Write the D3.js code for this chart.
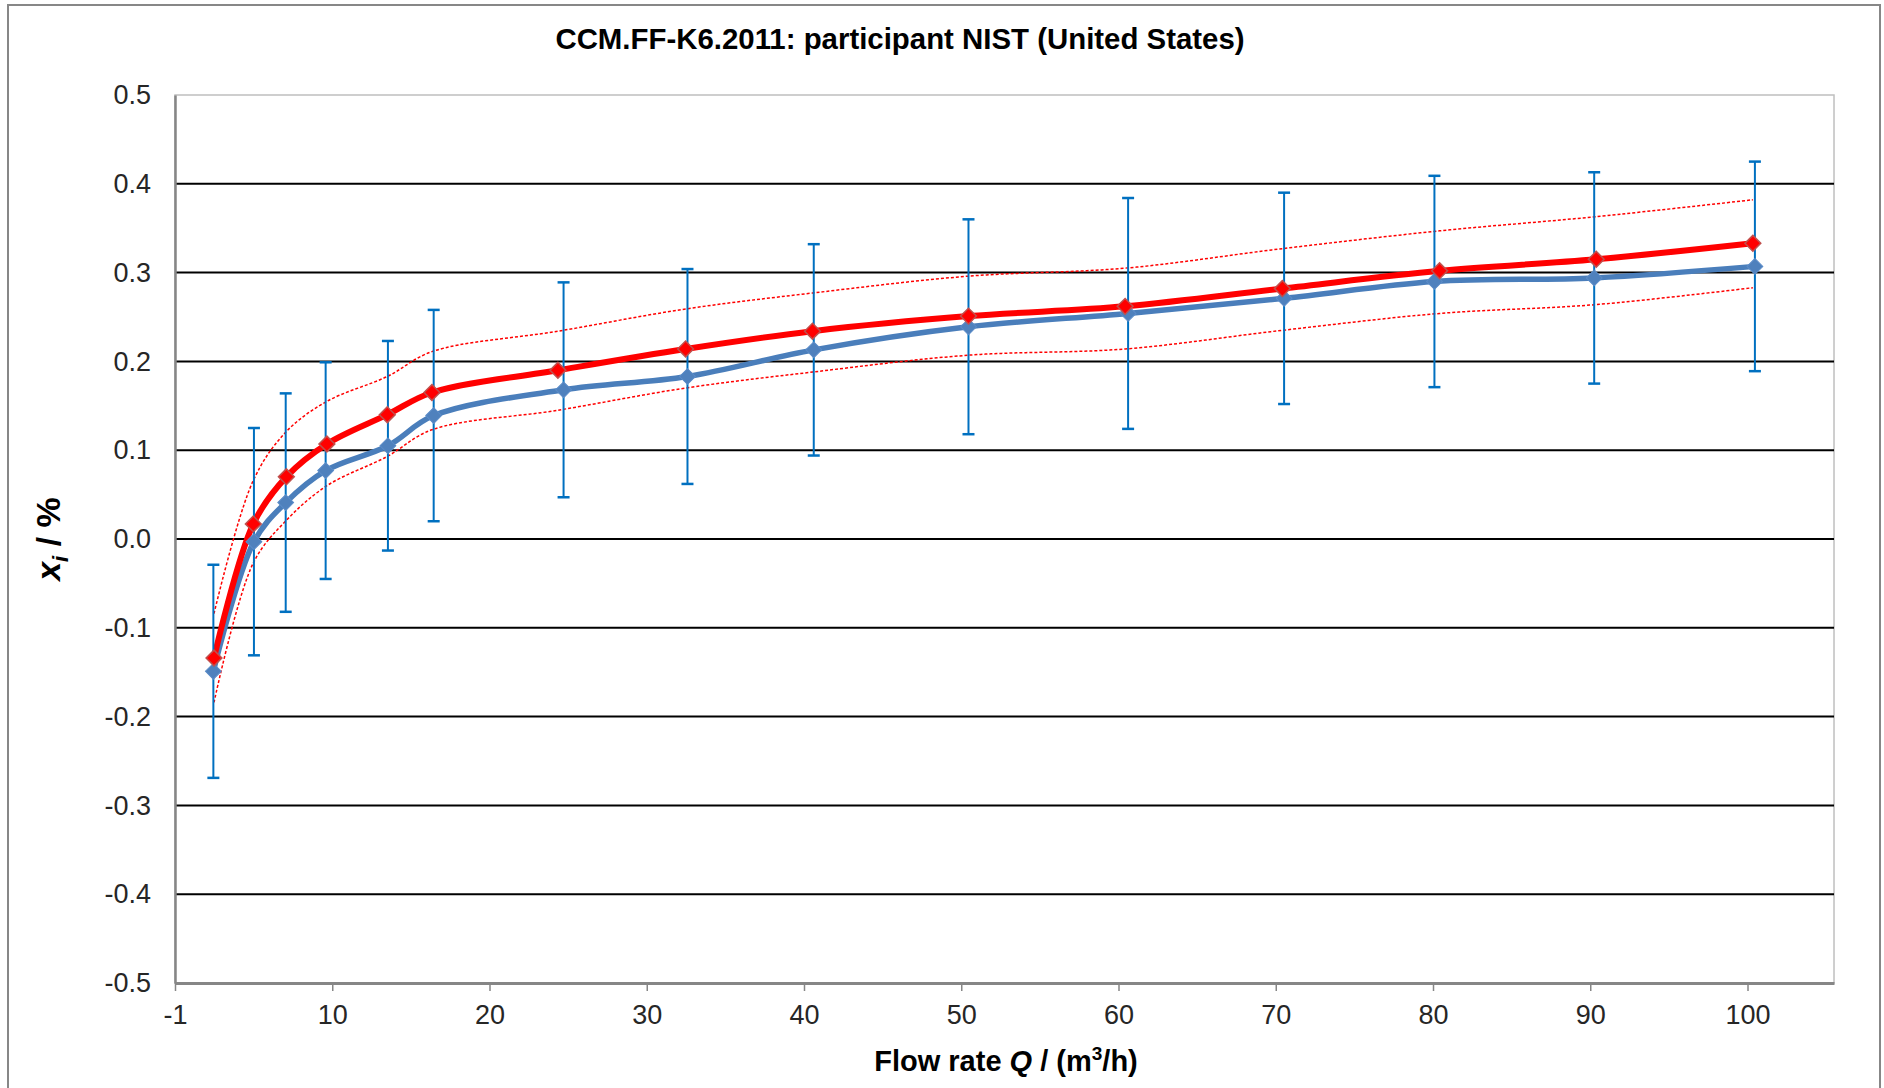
<!DOCTYPE html>
<html><head><meta charset="utf-8">
<script src="https://cdn.jsdelivr.net/npm/d3@7"></script>
<style>
body{margin:0;background:#fff}
svg{display:block}
text{font-family:"Liberation Sans",Arial,Helvetica,sans-serif}
</style>
</head><body>
<svg id="chart" width="1884" height="1088"></svg>
<script>
// ---- data ----
const chartTitle = "CCM.FF-K6.2011: participant NIST (United States)";
// participant (NIST) deviations with expanded uncertainty
const flowNIST = [1.94, 4.52, 6.54, 9.08, 13.04, 15.95, 24.21, 32.09, 40.12, 49.96, 60.11, 70.03, 79.59, 89.75, 99.97];
const devNIST  = [-0.149, -0.003, 0.041, 0.077, 0.105, 0.139, 0.168, 0.183, 0.213, 0.239, 0.254, 0.271, 0.290, 0.294, 0.307];
const uncNIST  = [0.120, 0.128, 0.123, 0.122, 0.118, 0.119, 0.121, 0.121, 0.119, 0.121, 0.130, 0.119, 0.119, 0.119, 0.118];
// reference curve and its uncertainty band
const flowRef  = [1.98, 4.48, 6.58, 9.16, 13.00, 15.84, 23.85, 31.97, 40.04, 49.96, 59.92, 69.92, 79.92, 89.88, 99.84];
const devRef   = [-0.134, 0.017, 0.070, 0.107, 0.140, 0.165, 0.190, 0.214, 0.234, 0.251, 0.262, 0.282, 0.302, 0.315, 0.333];
const refUpper = [-0.084, 0.066, 0.121, 0.155, 0.183, 0.211, 0.234, 0.259, 0.277, 0.296, 0.305, 0.327, 0.347, 0.363, 0.382];
const refLower = [-0.184, -0.027, 0.021, 0.060, 0.093, 0.123, 0.145, 0.170, 0.188, 0.207, 0.214, 0.235, 0.254, 0.264, 0.283];
// axes
const xTicks      = [-0.5, 9.5, 19.5, 29.5, 39.5, 49.5, 59.5, 69.5, 79.5, 89.5, 99.5];
const xTickLabels = ["-1", "10", "20", "30", "40", "50", "60", "70", "80", "90", "100"];
const yTicks      = [-0.5, -0.4, -0.3, -0.2, -0.1, 0.0, 0.1, 0.2, 0.3, 0.4, 0.5];
const yTickLabels = ["-0.5", "-0.4", "-0.3", "-0.2", "-0.1", "0.0", "0.1", "0.2", "0.3", "0.4", "0.5"];

// ---- drawing ----
const svg = d3.select("#chart");
const L = 175, R = 1834, T = 95, B = 983;
const x = d3.scaleLinear().domain([-0.5, 105]).range([L, R]);
const y = d3.scaleLinear().domain([-0.5, 0.5]).range([B, T]);

// outer chart border
svg.append("rect").attr("x", 8).attr("y", 5).attr("width", 1872).attr("height", 1110)
  .attr("fill", "#fff").attr("stroke", "#878787").attr("stroke-width", 2);

// title
svg.append("text").attr("x", 900).attr("y", 49).attr("text-anchor", "middle")
  .attr("font-size", 29.4).attr("font-weight", "bold").attr("fill", "#000").text(chartTitle);

// plot area border
svg.append("rect").attr("x", L).attr("y", T).attr("width", R - L).attr("height", B - T)
  .attr("fill", "none").attr("stroke", "#BFBFBF").attr("stroke-width", 1.5);

// gridlines
svg.append("g").selectAll("line").data(yTicks.filter(v => Math.abs(v) < 0.45)).join("line")
  .attr("x1", L).attr("x2", R).attr("y1", d => y(d)).attr("y2", d => y(d))
  .attr("stroke", "#000").attr("stroke-width", 2);

// y axis (labels only, no tick marks)
const yAxis = d3.axisLeft(y).tickValues(yTicks).tickSize(0).tickPadding(24)
  .tickFormat((d, i) => yTickLabels[i]);
const gy = svg.append("g").attr("transform", `translate(${L},0)`).call(yAxis);
gy.select(".domain").attr("stroke", "#868686").attr("stroke-width", 2.5);
gy.selectAll("text").attr("font-size", 27).attr("fill", "#262626")
  .attr("font-family", '"Liberation Sans",Arial,sans-serif');

// x axis
const xAxis = d3.axisBottom(x).tickValues(xTicks).tickSizeInner(8).tickSizeOuter(0).tickPadding(14)
  .tickFormat((d, i) => xTickLabels[i]);
const gx = svg.append("g").attr("transform", `translate(0,${B})`).call(xAxis);
gx.select(".domain").attr("stroke", "#868686").attr("stroke-width", 3);
gx.selectAll(".tick line").attr("stroke", "#868686").attr("stroke-width", 1.5);
gx.selectAll("text").attr("font-size", 27).attr("fill", "#262626")
  .attr("font-family", '"Liberation Sans",Arial,sans-serif');

// axis titles
const xt = svg.append("text").attr("x", 1006).attr("y", 1071).attr("text-anchor", "middle")
  .attr("font-size", 29).attr("font-weight", "bold").attr("fill", "#000");
xt.append("tspan").text("Flow rate ");
xt.append("tspan").attr("font-style", "italic").text("Q");
xt.append("tspan").text(" / (m");
xt.append("tspan").attr("font-size", 19).attr("dy", -11).text("3");
xt.append("tspan").attr("dy", 11).text("/h)");

const yt = svg.append("text").attr("transform", "translate(60,539) rotate(-90)").attr("text-anchor", "middle")
  .attr("font-size", 34).attr("font-weight", "bold").attr("fill", "#000");
yt.append("tspan").attr("font-style", "italic").text("x");
yt.append("tspan").attr("font-style", "italic").attr("font-size", 22).attr("dy", 8).text("i");
yt.append("tspan").attr("dy", -8).text(" / %");

const curve = d3.curveCatmullRom.alpha(0.5);
const lineGen = d3.line().x(d => x(d[0])).y(d => y(d[1])).curve(curve);

const ptsNIST = flowNIST.map((q, i) => [q, devNIST[i], uncNIST[i]]);
const ptsRef  = flowRef.map((q, i) => [q, devRef[i]]);
const ptsUp   = flowRef.map((q, i) => [q, refUpper[i]]);
const ptsLo   = flowRef.map((q, i) => [q, refLower[i]]);

// uncertainty band (dotted)
[ptsUp, ptsLo].forEach(p => {
  svg.append("path").attr("d", lineGen(p)).attr("fill", "none")
    .attr("stroke", "#FF0000").attr("stroke-width", 1.5).attr("stroke-dasharray", "3,2");
});

// NIST line
svg.append("path").attr("d", lineGen(ptsNIST)).attr("fill", "none")
  .attr("stroke", "#4A7EBB").attr("stroke-width", 5.5).attr("stroke-linejoin", "round");
// reference line
svg.append("path").attr("d", lineGen(ptsRef)).attr("fill", "none")
  .attr("stroke", "#FF0000").attr("stroke-width", 6).attr("stroke-linejoin", "round");

// error bars
const eb = svg.append("g").attr("stroke", "#0070C0");
eb.selectAll("line.v").data(ptsNIST).join("line").attr("class", "v")
  .attr("x1", d => x(d[0])).attr("x2", d => x(d[0]))
  .attr("y1", d => y(d[1] - d[2])).attr("y2", d => y(d[1] + d[2])).attr("stroke-width", 2);
eb.selectAll("line.t").data(ptsNIST).join("line").attr("class", "t")
  .attr("x1", d => x(d[0]) - 6).attr("x2", d => x(d[0]) + 6)
  .attr("y1", d => y(d[1] + d[2])).attr("y2", d => y(d[1] + d[2])).attr("stroke-width", 2.5);
eb.selectAll("line.b").data(ptsNIST).join("line").attr("class", "b")
  .attr("x1", d => x(d[0]) - 6).attr("x2", d => x(d[0]) + 6)
  .attr("y1", d => y(d[1] - d[2])).attr("y2", d => y(d[1] - d[2])).attr("stroke-width", 2.5);

// markers (diamonds)
const diamond = d3.symbol().type(d3.symbolSquare).size(125);
svg.append("g").selectAll("path").data(ptsNIST).join("path")
  .attr("d", diamond).attr("transform", d => `translate(${x(d[0])},${y(d[1])}) rotate(45)`)
  .attr("fill", "#4F81BD").attr("stroke", "#5B8CC8").attr("stroke-width", 1);
svg.append("g").selectAll("path").data(ptsRef).join("path")
  .attr("d", diamond).attr("transform", d => `translate(${x(d[0])},${y(d[1])}) rotate(45)`)
  .attr("fill", "#FF0000").attr("stroke", "#C0504D").attr("stroke-width", 1.5);
</script>
</body></html>
